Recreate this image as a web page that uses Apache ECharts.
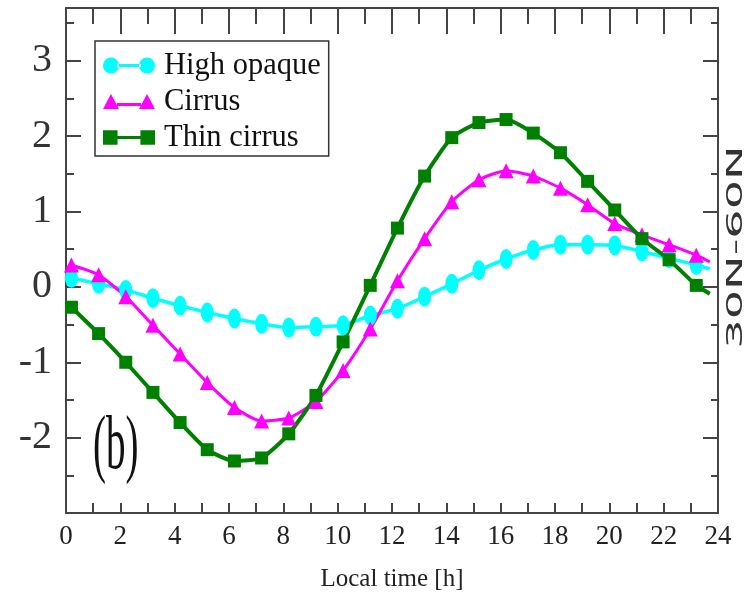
<!DOCTYPE html>
<html>
<head>
<meta charset="utf-8">
<script src="https://cdn.jsdelivr.net/npm/echarts@6/dist/echarts.min.js"></script>
<style>
  html, body { margin: 0; padding: 0; background: #fff; }
  #chart { width: 753px; height: 601px; }
</style>
</head>
<body>
<div id="chart"></div>
<script>
// 横轴：地方时（最后一个点只画线不画标记）
const hours = [0.2, 1.2, 2.2, 3.2, 4.2, 5.2, 6.2, 7.2, 8.2, 9.2, 10.2, 11.2,
    12.2, 13.2, 14.2, 15.2, 16.2, 17.2, 18.2, 19.2, 20.2, 21.2, 22.2, 23.2, 23.7];

const highOpaque = [0.12, 0.04, -0.04, -0.15, -0.25, -0.34, -0.42, -0.49, -0.54, -0.53, -0.51, -0.38,
    -0.29, -0.13, 0.04, 0.22, 0.37, 0.49, 0.56, 0.56, 0.55, 0.47, 0.38, 0.29, 0.24];
const cirrus = [0.29, 0.16, -0.13, -0.51, -0.89, -1.27, -1.6, -1.78, -1.74, -1.52, -1.11, -0.56,
    0.08, 0.64, 1.13, 1.42, 1.54, 1.47, 1.31, 1.09, 0.84, 0.69, 0.56, 0.42, 0.33];
const thinCirrus = [-0.27, -0.62, -1.0, -1.4, -1.8, -2.16, -2.31, -2.27, -1.95, -1.44, -0.73, 0.02,
    0.78, 1.47, 1.98, 2.18, 2.22, 2.04, 1.78, 1.4, 1.02, 0.64, 0.36, 0.02, -0.09];

const seriesNames = ['High opaque', 'Cirrus', 'Thin cirrus'];
const xTicks = { min: 0, max: 24, step: 2 };
const yTicks = { min: -3, max: 3.7, step: 1 };
const yLabels = [-2, -1, 0, 1, 2, 3];

const serif = 'Liberation Serif';
const axisColor = '#444';

// 图例图标：两端标记 + 中间连线
const bar = 'M14,6.5 L38,6.5 L38,9.5 L14,9.5 Z';
const icons = [
    'path://M0,8 A8,8 0 1,0 16,8 A8,8 0 1,0 0,8 Z M36,8 A8,8 0 1,0 52,8 A8,8 0 1,0 36,8 Z ' + bar,
    'path://M0,16 L8,1 L16,16 Z M36,16 L44,1 L52,16 Z M14,10 L38,10 L38,13 L14,13 Z',
    'path://M1,1 L15,1 L15,15 L1,15 Z M37,1 L51,1 L51,15 L37,15 Z ' + bar
];

const toData = (values) => values.map((v, i) => {
    const item = { value: [hours[i], v] };
    if (i === values.length - 1) item.symbol = 'none';
    return item;
});

const makeSeries = (name, values, color, symbol, size, width) => ({
    name: name,
    type: 'line',
    data: toData(values),
    smooth: 0.2,
    symbol: symbol,
    symbolSize: size,
    showSymbol: true,
    lineStyle: { color: color, width: width },
    itemStyle: { color: color },
    yAxisIndex: 0,
    xAxisIndex: 0
});

const myChart = echarts.init(document.getElementById('chart'));

const yAxisBase = (position, interval, tickLen, showLabel) => ({
    type: 'value',
    position: position,
    min: yTicks.min,
    max: yTicks.max,
    interval: interval,
    axisLine: { show: showLabel || position === 'right', onZero: false, lineStyle: { color: axisColor, width: 2 } },
    axisTick: { show: true, inside: true, length: tickLen, lineStyle: { color: axisColor, width: 2 } },
    axisLabel: {
        show: showLabel,
        margin: 14,
        fontFamily: serif,
        fontSize: 40,
        color: '#333',
        formatter: (v) => (yLabels.indexOf(v) >= 0 ? String(v) : '')
    },
    splitLine: { show: false }
});

const option = {
    animation: false,
    backgroundColor: '#fff',
    grid: { left: 66, right: 35, top: 8, bottom: 88 },
    legend: {
        data: seriesNames.map((n, i) => ({ name: n, icon: icons[i] })),
        orient: 'vertical',
        left: 95,
        top: 41,
        padding: [9, 8, 3, 8],
        itemGap: 5,
        itemWidth: 52,
        itemHeight: 16,
        borderColor: '#333',
        borderWidth: 1.5,
        backgroundColor: '#fff',
        textStyle: { fontFamily: serif, fontSize: 30.5, lineHeight: 30, color: '#111', padding: [0, 0, 0, 4] }
    },
    xAxis: [
        {
            type: 'value',
            position: 'bottom',
            min: xTicks.min,
            max: xTicks.max,
            interval: xTicks.step,
            name: 'Local time [h]',
            nameLocation: 'middle',
            nameGap: 54,
            nameTextStyle: { fontFamily: serif, fontSize: 25, color: '#222' },
            axisLine: { onZero: false, lineStyle: { color: axisColor, width: 2 } },
            axisTick: { inside: true, length: 10, lineStyle: { color: axisColor, width: 2 } },
            minorTick: { show: true, splitNumber: 2, length: 10, lineStyle: { color: axisColor, width: 2 } },
            axisLabel: { margin: 10, fontFamily: serif, fontSize: 27, color: '#222' },
            splitLine: { show: false }
        },
        {
            type: 'value',
            position: 'top',
            min: xTicks.min,
            max: xTicks.max,
            interval: xTicks.step,
            axisLine: { onZero: false, lineStyle: { color: axisColor, width: 2 } },
            axisTick: { inside: true, length: 26, lineStyle: { color: axisColor, width: 2 } },
            minorTick: { show: true, splitNumber: 2, length: 16, lineStyle: { color: axisColor, width: 2 } },
            axisLabel: { show: false },
            splitLine: { show: false }
        }
    ],
    yAxis: [
        yAxisBase('left', yTicks.step, 15, true),
        yAxisBase('left', yTicks.step / 2, 8, false),
        yAxisBase('right', yTicks.step, 15, false),
        yAxisBase('right', yTicks.step / 2, 7, false)
    ],
    graphic: [
        {
            type: 'text',
            x: 93,
            y: 410,
            scaleY: 1.95,
            style: { text: '(b)', fontFamily: serif, fontSize: 39, fill: '#111', textAlign: 'left', textVerticalAlign: 'top' }
        },
        {
            type: 'text',
            x: 737,
            y: 247,
            rotation: Math.PI / 2,
            scaleX: 2.2,
            style: { text: '30N-60N', fontFamily: 'DejaVu Sans', fontSize: 21, fill: '#333', textAlign: 'center', textVerticalAlign: 'middle' }
        }
    ],
    series: [
        makeSeries(seriesNames[0], highOpaque, '#00ffff', 'circle', [13, 20], 3.5),
        makeSeries(seriesNames[1], cirrus, '#ff00ff', 'triangle', 15, 3),
        makeSeries(seriesNames[2], thinCirrus, '#008000', 'rect', 13, 4)
    ]
};

myChart.setOption(option);

window.addEventListener('resize', () => {
    myChart.resize();
});
</script>
</body>
</html>
